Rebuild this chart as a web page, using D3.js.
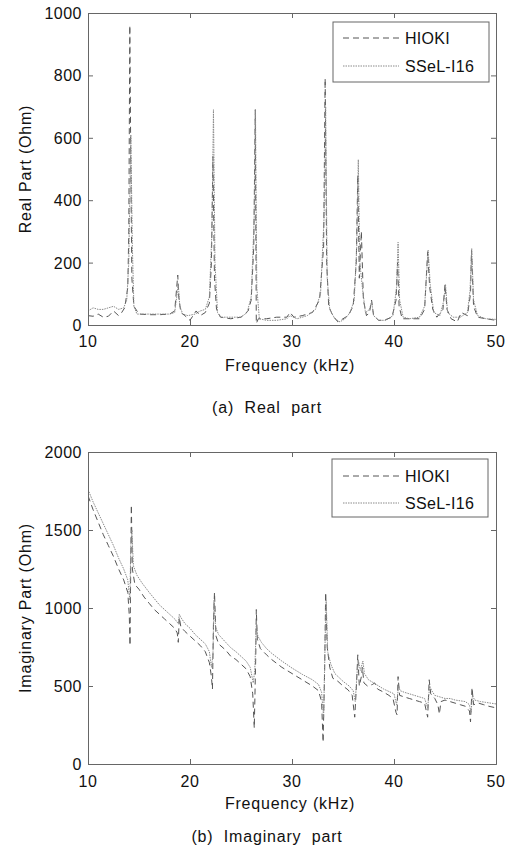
<!DOCTYPE html>
<html><head><meta charset="utf-8">
<script src="https://cdn.jsdelivr.net/npm/d3@7"></script>
<style>
body{margin:0;background:#fff}
text{font-family:"Liberation Sans",Arial,Helvetica,sans-serif;fill:#111}
</style>
</head><body>
<svg id="c" width="514" height="848"></svg>
<script>
// ---------- data ----------
const seriesNames = ["HIOKI", "SSeL-I16"];
const xTicks = [10, 20, 30, 40, 50];
const realTicks = [0, 200, 400, 600, 800, 1000];
const imagTicks = [0, 500, 1000, 1500, 2000];

// Real part, HIOKI (dashed)
const realHiokiF = [10.0,10.5,11.0,11.5,12.0,12.5,13.0,13.3,13.6,13.9,14.0,14.1,14.2,14.3,14.5,15.0,16.0,17.0,18.0,18.5,18.8,18.9,19.1,19.5,20.0,20.3,20.6,21.0,21.5,21.9,22.1,22.25,22.4,22.6,23.0,24.0,25.0,25.7,26.0,26.25,26.4,26.5,26.7,27.5,28.5,29.5,29.8,30.2,31.0,32.0,32.7,33.1,33.25,33.4,33.6,34.0,34.5,35.0,35.5,36.0,36.3,36.45,36.6,36.8,37.0,37.3,37.6,37.8,38.0,38.5,39.0,39.8,40.2,40.35,40.5,40.8,41.5,42.5,43.0,43.3,43.5,43.8,44.2,44.8,45.0,45.2,45.6,46.2,46.6,47.2,47.5,47.6,47.8,48.2,49.0,50.0];
const realHiokiV = [30,28,35,25,28,45,30,40,55,120,300,960,500,150,60,35,33,33,35,45,160,90,40,30,15,30,45,30,40,70,200,540,150,50,25,20,25,45,80,250,690,5,20,20,25,25,40,25,30,40,80,250,790,200,60,30,10,20,30,60,200,480,150,300,80,30,40,80,30,15,15,25,80,200,60,20,20,20,50,235,120,50,25,50,130,50,20,10,40,30,100,240,60,25,20,15];

// Real part, SSeL-I16 (dotted)
const realSselF = [10.0,10.5,11.0,11.5,12.0,12.5,13.0,13.5,13.8,14.0,14.2,14.35,14.5,14.8,16.0,17.0,18.0,18.5,18.85,19.0,19.3,19.8,20.5,21.0,21.5,21.9,22.15,22.3,22.45,22.7,23.0,24.0,25.0,25.6,26.0,26.3,26.42,26.55,26.8,27.5,28.5,29.5,29.8,30.5,31.5,32.3,32.8,33.15,33.3,33.45,33.7,34.2,34.7,35.2,35.7,36.1,36.35,36.5,36.65,36.9,37.2,37.6,37.8,38.0,38.5,39.2,39.9,40.25,40.4,40.55,40.9,41.5,42.5,43.0,43.35,43.55,43.9,44.5,44.9,45.05,45.25,45.8,46.5,47.2,47.45,47.62,47.8,48.2,49.0,50.0];
const realSselV = [45,55,50,50,55,60,50,55,80,200,610,250,60,35,35,35,35,40,130,60,35,30,35,45,50,90,300,690,200,40,25,25,25,40,90,350,690,120,20,15,15,20,30,20,30,50,100,350,700,150,50,20,10,20,40,80,250,530,200,120,40,50,75,30,15,15,30,120,265,80,25,20,25,60,240,130,40,30,80,130,40,25,25,40,110,245,80,30,20,18];

// Imaginary part, HIOKI (dashed)
const imagHiokiF = [10.0,10.5,11.0,11.5,12.0,12.5,13.0,13.5,13.9,14.05,14.12,14.18,14.25,14.35,14.6,15.0,15.5,16.0,16.5,17.0,17.5,18.0,18.5,18.75,18.85,18.95,19.1,19.5,20.0,20.5,21.0,21.5,21.9,22.1,22.2,22.3,22.4,22.55,22.8,23.5,24.0,24.5,25.0,25.5,25.9,26.15,26.3,26.45,26.5,26.6,26.9,27.5,28.0,29.0,30.0,31.0,32.0,32.6,32.9,33.05,33.2,33.3,33.45,33.7,34.0,34.5,35.0,35.5,35.9,36.15,36.3,36.45,36.6,36.8,36.9,37.05,37.4,37.9,38.1,38.4,39.0,39.5,39.9,40.2,40.3,40.4,40.55,41.0,41.5,42.0,42.5,43.0,43.3,43.45,43.6,44.0,44.3,44.45,44.6,45.0,45.5,46.0,46.5,47.0,47.4,47.5,47.65,47.8,48.3,48.8,49.3,50.0];
const imagHiokiV = [1720,1630,1550,1470,1400,1330,1250,1180,1100,950,760,1200,1660,1250,1150,1120,1070,1030,990,960,930,900,870,840,780,940,880,850,820,790,760,720,650,560,480,900,1100,820,770,730,690,670,640,610,560,450,230,700,990,800,740,700,670,620,580,540,500,470,400,140,600,1100,750,620,550,530,500,475,440,300,480,700,500,560,620,520,500,510,520,480,460,440,420,330,315,560,440,430,420,410,400,390,300,540,450,420,380,320,400,410,400,390,380,370,340,270,490,380,390,380,370,360];

// Imaginary part, SSeL-I16 (dotted)
const imagSselF = [10.0,10.5,11.0,11.5,12.0,12.5,13.0,13.5,13.9,14.1,14.2,14.3,14.45,14.8,15.3,16.0,16.5,17.0,17.5,18.0,18.5,18.85,18.95,19.1,19.5,20.0,20.5,21.0,21.5,21.9,22.1,22.25,22.35,22.5,22.8,23.5,24.0,24.5,25.0,25.5,25.9,26.2,26.35,26.5,26.65,27.0,27.5,28.0,29.0,30.0,31.0,32.0,32.6,32.9,33.1,33.25,33.35,33.5,33.8,34.2,35.0,35.6,36.0,36.2,36.4,36.55,36.7,36.95,37.1,37.5,38.0,38.5,39.0,39.5,40.0,40.25,40.45,40.6,41.0,41.5,42.0,42.5,43.0,43.3,43.5,43.7,44.0,44.5,45.0,45.5,46.0,46.5,47.0,47.4,47.55,47.7,47.9,48.5,49.0,49.5,50.0];
const imagSselV = [1760,1680,1610,1540,1470,1400,1320,1250,1180,1050,1400,1500,1270,1210,1160,1100,1060,1020,990,960,930,900,960,940,900,870,830,800,770,720,620,700,1050,880,830,780,745,720,690,660,620,520,600,900,820,780,740,710,660,615,575,540,510,460,300,800,1050,720,640,580,530,500,470,400,600,650,600,660,580,540,520,500,480,465,450,380,500,470,460,450,440,430,420,360,500,470,440,430,420,420,410,405,400,380,330,440,410,400,395,390,385];

// ---------- drawing ----------
const svg = d3.select("#c");
const X0 = 88, X1 = 496;
const x = d3.scaleLinear().domain([10, 50]).range([X0, X1]);

const panels = [
  {top: 13, bottom: 325, yMax: 1000, yTicks: realTicks, ylabel: "Real Part (Ohm)",
   data: [[realHiokiF, realHiokiV], [realSselF, realSselV]],
   legend: {x0: 333, y0: 22, x1: 489, y1: 82, rows: [38, 66]},
   tickBase: 347, xlabBase: 371, caption: "(a)  Real  part", capBase: 413, id: "a"},
  {top: 452, bottom: 764, yMax: 2000, yTicks: imagTicks, ylabel: "Imaginary Part (Ohm)",
   data: [[imagHiokiF, imagHiokiV], [imagSselF, imagSselV]],
   legend: {x0: 332, y0: 459, x1: 488, y1: 517, rows: [476, 503]},
   tickBase: 787, xlabBase: 809, caption: "(b)  Imaginary  part", capBase: 842, id: "b"}
];

const styles = [
  {stroke: "#555", dash: "6,4", width: 1},
  {stroke: "#8a8a8a", dash: "1.5,1", width: 1}
];

panels.forEach(p => {
  const y = d3.scaleLinear().domain([0, p.yMax]).range([p.bottom, p.top]);
  const g = svg.append("g");

  g.append("clipPath").attr("id", "clip" + p.id)
    .append("rect").attr("x", X0).attr("y", p.top).attr("width", X1 - X0).attr("height", p.bottom - p.top);

  // series
  p.data.forEach((d, i) => {
    const pts = d[0].map((f, k) => [f, d[1][k]]);
    g.append("path")
      .attr("clip-path", "url(#clip" + p.id + ")")
      .attr("d", d3.line().x(v => x(v[0])).y(v => y(v[1]))(pts))
      .attr("fill", "none")
      .attr("stroke", styles[i].stroke)
      .attr("stroke-width", styles[i].width)
      .attr("stroke-dasharray", styles[i].dash);
  });

  // axes (inward ticks, all sides)
  const tickLen = 5;
  const axB = d3.axisBottom(x).tickValues(xTicks).tickSize(-tickLen).tickFormat("");
  const axT = d3.axisTop(x).tickValues(xTicks).tickSize(-tickLen).tickFormat("");
  const axL = d3.axisLeft(y).tickValues(p.yTicks).tickSize(-tickLen).tickFormat("");
  const axR = d3.axisRight(y).tickValues(p.yTicks).tickSize(-tickLen).tickFormat("");
  [[axB, `translate(0,${p.bottom})`], [axT, `translate(0,${p.top})`],
   [axL, `translate(${X0},0)`], [axR, `translate(${X1},0)`]].forEach(([ax, tr]) => {
    const a = g.append("g").attr("transform", tr).call(ax);
    a.selectAll("path,line").attr("stroke", "#666").attr("stroke-width", 1);
  });

  // tick labels
  g.selectAll(".xt").data(xTicks).enter().append("text")
    .attr("x", d => x(d)).attr("y", p.tickBase)
    .attr("text-anchor", "middle").attr("font-size", 16).attr("letter-spacing", 0.5)
    .text(d => d);
  g.selectAll(".yt").data(p.yTicks).enter().append("text")
    .attr("x", 82).attr("y", d => y(d) + 6)
    .attr("text-anchor", "end").attr("font-size", 16).attr("letter-spacing", 0.5)
    .text(d => d);

  // axis titles
  g.append("text").attr("x", (X0 + X1) / 2 - 2).attr("y", p.xlabBase)
    .attr("text-anchor", "middle").attr("font-size", 16).attr("letter-spacing", 0.8)
    .text("Frequency (kHz)");
  g.append("text")
    .attr("transform", `translate(31,${(p.top + p.bottom) / 2}) rotate(-90)`)
    .attr("text-anchor", "middle").attr("font-size", 16).attr("letter-spacing", 0.8)
    .text(p.ylabel);
  g.append("text").attr("x", 267).attr("y", p.capBase)
    .attr("text-anchor", "middle").attr("font-size", 16).attr("letter-spacing", 0.8)
    .style("white-space", "pre")
    .text(p.caption);

  // legend
  const L = p.legend;
  g.append("rect").attr("x", L.x0).attr("y", L.y0)
    .attr("width", L.x1 - L.x0).attr("height", L.y1 - L.y0)
    .attr("fill", "#fff").attr("stroke", "#666").attr("stroke-width", 1);
  seriesNames.forEach((name, i) => {
    g.append("line").attr("x1", 343).attr("x2", 399)
      .attr("y1", L.rows[i]).attr("y2", L.rows[i])
      .attr("stroke", styles[i].stroke).attr("stroke-width", 1)
      .attr("stroke-dasharray", styles[i].dash);
    g.append("text").attr("x", 405).attr("y", L.rows[i] + 6)
      .attr("font-size", 16).attr("letter-spacing", 0.3)
      .text(name);
  });
});
</script>
</body></html>
